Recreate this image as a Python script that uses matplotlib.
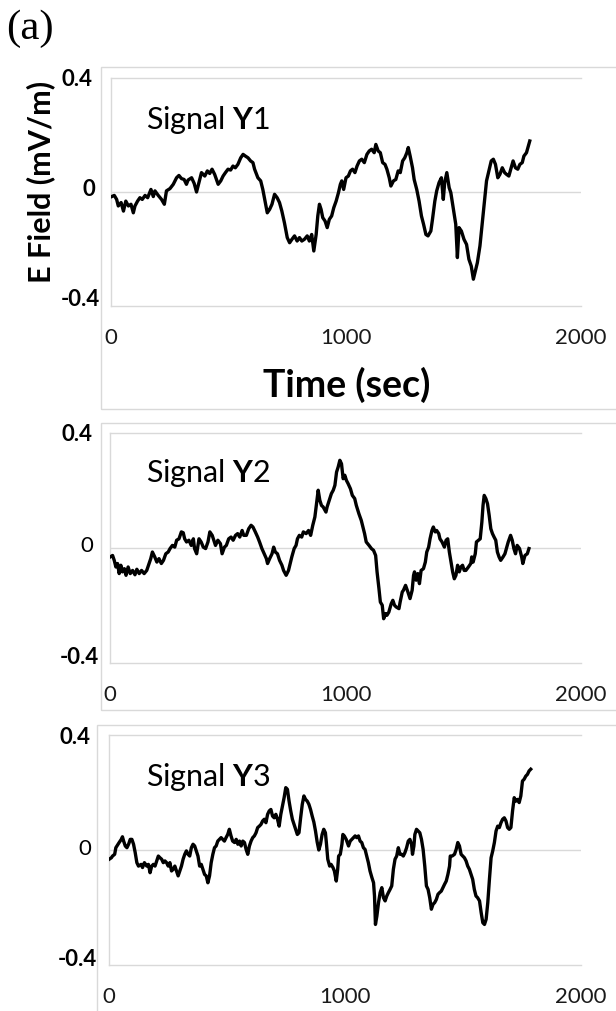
import matplotlib
matplotlib.use("Agg")
import matplotlib.pyplot as plt
import matplotlib.transforms as mtransforms
from matplotlib.patches import Rectangle

# digitised signals: (time in sec, E field in mV/m)
y1_points = [
    (3, -0.016), (14, -0.012), (24, -0.026), (31, -0.049), (43, -0.037), (53, -0.067), (63, -0.032),
    (74, -0.049), (85, -0.043), (95, -0.073), (102, -0.049), (113, -0.032), (123, -0.020), (133, -0.026),
    (145, -0.012), (156, -0.020), (170, 0.009), (180, -0.016), (187, 0.004), (201, -0.012), (215, -0.026),
    (227, -0.043), (236, 0.004), (251, 0.012), (265, 0.027), (279, 0.050), (289, 0.058), (300, 0.047),
    (311, 0.044), (321, 0.027), (328, 0.042), (343, 0.050), (354, 0.030), (364, 0.000), (374, 0.033),
    (385, 0.068), (399, 0.056), (410, 0.074), (420, 0.065), (430, 0.080), (441, 0.062), (456, 0.027),
    (467, 0.039), (477, 0.056), (487, 0.068), (498, 0.080), (509, 0.077), (519, 0.091), (529, 0.085),
    (540, 0.097), (552, 0.120), (562, 0.132), (572, 0.126), (583, 0.120), (594, 0.109), (604, 0.103),
    (611, 0.080), (625, 0.050), (637, 0.039), (646, 0.009), (654, -0.026), (665, -0.073), (675, -0.061),
    (685, -0.043), (696, -0.008), (707, -0.020), (717, -0.037), (727, -0.067), (738, -0.108), (750, -0.160),
    (760, -0.178), (770, -0.166), (781, -0.154), (792, -0.172), (802, -0.160), (812, -0.172), (823, -0.166),
    (835, -0.154), (844, -0.172), (854, -0.149), (863, -0.207), (873, -0.149), (880, -0.084), (887, -0.043),
    (894, -0.061), (901, -0.090), (911, -0.102), (920, -0.125), (929, -0.096), (939, -0.084), (948, -0.055),
    (958, -0.032), (968, -0.002), (976, 0.027), (982, 0.039), (990, 0.009), (1000, 0.050), (1010, 0.056),
    (1019, 0.074), (1028, 0.080), (1038, 0.068), (1047, 0.091), (1057, 0.109), (1067, 0.115), (1078, 0.103),
    (1089, 0.132), (1099, 0.144), (1109, 0.150), (1120, 0.138), (1127, 0.167), (1137, 0.144), (1146, 0.138),
    (1156, 0.103), (1166, 0.097), (1174, 0.080), (1184, 0.050), (1191, 0.021), (1202, 0.039), (1212, 0.044),
    (1222, 0.074), (1231, 0.068), (1241, 0.109), (1250, 0.120), (1259, 0.138), (1265, 0.156), (1273, 0.126),
    (1283, 0.085), (1290, 0.044), (1301, 0.009), (1311, -0.032), (1321, -0.084), (1330, -0.113), (1340, -0.149),
    (1349, -0.154), (1361, -0.137), (1368, -0.096), (1378, -0.032), (1386, 0.004), (1396, 0.033), (1406, 0.050),
    (1414, -0.026), (1420, 0.033), (1429, 0.068), (1439, 0.015), (1446, -0.002), (1457, -0.061), (1467, -0.113),
    (1474, -0.230), (1481, -0.125), (1491, -0.137), (1502, -0.166), (1513, -0.184), (1523, -0.236), (1533, -0.260),
    (1542, -0.306), (1547, -0.289), (1559, -0.248), (1570, -0.189), (1580, -0.108), (1590, -0.026), (1598, 0.039),
    (1608, 0.074), (1618, 0.109), (1627, 0.115), (1636, 0.097), (1646, 0.050), (1655, 0.062), (1665, 0.085),
    (1675, 0.068), (1683, 0.062), (1693, 0.056), (1703, 0.085), (1711, 0.109), (1721, 0.085), (1731, 0.080),
    (1740, 0.097), (1750, 0.103), (1757, 0.126), (1768, 0.138), (1774, 0.156), (1782, 0.179),
]

y2_points = [
    (1, -0.031), (11, -0.026), (18, -0.043), (25, -0.066), (32, -0.054), (39, -0.089), (46, -0.060),
    (53, -0.083), (61, -0.072), (68, -0.095), (77, -0.066), (86, -0.089), (96, -0.078), (106, -0.093),
    (114, -0.074), (124, -0.089), (134, -0.078), (145, -0.089), (156, -0.078), (166, -0.054), (173, -0.037),
    (180, -0.014), (190, -0.031), (199, -0.049), (208, -0.037), (218, -0.054), (227, -0.043), (237, -0.020),
    (247, -0.014), (255, -0.002), (265, 0.009), (275, 0.003), (283, 0.027), (293, 0.032), (303, 0.056),
    (311, 0.053), (317, 0.032), (325, 0.021), (335, 0.027), (345, 0.009), (354, 0.032), (359, -0.002),
    (368, -0.020), (378, 0.032), (387, 0.021), (396, 0.003), (406, -0.002), (416, 0.021), (424, 0.056),
    (434, 0.044), (441, 0.027), (448, 0.009), (458, 0.027), (469, 0.015), (476, -0.020), (486, 0.003),
    (494, 0.009), (504, 0.032), (514, 0.038), (523, 0.027), (533, 0.044), (542, 0.050), (551, 0.038),
    (561, 0.061), (568, 0.044), (579, 0.044), (589, 0.067), (599, 0.079), (607, 0.073), (617, 0.056),
    (627, 0.038), (635, 0.021), (645, -0.002), (655, -0.020), (664, -0.037), (669, -0.054), (678, -0.037),
    (688, -0.020), (695, 0.003), (702, -0.014), (711, -0.020), (720, -0.043), (730, -0.060), (737, -0.078),
    (748, -0.095), (758, -0.078), (765, -0.054), (772, -0.031), (782, -0.002), (790, 0.009), (796, 0.032),
    (804, 0.044), (814, 0.038), (821, 0.056), (833, 0.050), (843, 0.061), (852, 0.044), (861, 0.079),
    (870, 0.108), (877, 0.154), (884, 0.201), (891, 0.166), (898, 0.148), (905, 0.143), (917, 0.125),
    (922, 0.143), (931, 0.166), (940, 0.189), (948, 0.201), (955, 0.218), (962, 0.264), (969, 0.282),
    (976, 0.305), (983, 0.293), (990, 0.241), (997, 0.253), (1004, 0.235), (1011, 0.224), (1021, 0.206),
    (1029, 0.183), (1039, 0.172), (1046, 0.148), (1057, 0.119), (1067, 0.096), (1074, 0.073), (1081, 0.050),
    (1088, 0.021), (1100, 0.009), (1110, -0.002), (1119, -0.008), (1128, -0.026), (1134, -0.083), (1142, -0.141),
    (1148, -0.188), (1156, -0.199), (1162, -0.246), (1170, -0.228), (1176, -0.234), (1184, -0.223), (1194, -0.194),
    (1201, -0.182), (1208, -0.199), (1215, -0.205), (1227, -0.211), (1232, -0.188), (1241, -0.153), (1246, -0.147),
    (1255, -0.130), (1265, -0.153), (1274, -0.176), (1283, -0.147), (1289, -0.095), (1293, -0.083), (1300, -0.112),
    (1307, -0.089), (1314, -0.124), (1321, -0.078), (1331, -0.072), (1339, -0.049), (1345, -0.014), (1353, 0.003),
    (1359, 0.032), (1367, 0.061), (1373, 0.073), (1381, 0.056), (1387, 0.061), (1396, 0.050), (1401, 0.032),
    (1410, 0.021), (1420, 0.003), (1427, 0.027), (1434, 0.032), (1441, -0.014), (1448, -0.049), (1455, -0.083),
    (1462, -0.107), (1469, -0.095), (1476, -0.060), (1483, -0.083), (1490, -0.066), (1497, -0.060), (1504, -0.078),
    (1511, -0.078), (1522, -0.066), (1532, -0.054), (1536, -0.031), (1542, -0.049), (1551, -0.020), (1556, 0.021),
    (1565, 0.027), (1572, 0.032), (1579, 0.090), (1584, 0.148), (1589, 0.183), (1596, 0.172), (1603, 0.154),
    (1610, 0.114), (1617, 0.067), (1624, 0.050), (1631, 0.038), (1638, 0.027), (1645, -0.014), (1652, -0.031),
    (1659, -0.043), (1669, -0.031), (1677, -0.020), (1683, -0.002), (1691, 0.021), (1701, 0.044), (1708, 0.027),
    (1715, -0.002), (1722, -0.020), (1729, 0.009), (1739, -0.002), (1748, -0.031), (1753, -0.054), (1762, -0.026),
    (1772, -0.020), (1779, -0.002),
]

y3_points = [
    (1, -0.032), (10, -0.027), (15, -0.021), (24, -0.015), (29, 0.008), (38, 0.020), (43, 0.026),
    (52, 0.037), (57, 0.046), (62, 0.031), (69, 0.014), (76, 0.008), (83, 0.020), (90, 0.037), (97, 0.037),
    (104, 0.020), (111, -0.009), (118, -0.044), (125, -0.056), (136, -0.050), (142, -0.061), (150, -0.044),
    (160, -0.056), (167, -0.050), (174, -0.079), (181, -0.056), (188, -0.050), (195, -0.056), (202, -0.038),
    (209, -0.021), (216, -0.027), (223, -0.032), (230, -0.044), (237, -0.038), (244, -0.044), (251, -0.056),
    (258, -0.044), (265, -0.073), (272, -0.067), (279, -0.056), (286, -0.073), (293, -0.090), (300, -0.073),
    (307, -0.056), (314, -0.032), (321, -0.015), (328, -0.003), (335, -0.015), (342, -0.021), (349, 0.008),
    (356, 0.020), (363, 0.014), (370, -0.003), (377, -0.021), (384, -0.056), (391, -0.050), (398, -0.067),
    (405, -0.085), (412, -0.090), (419, -0.114), (426, -0.090), (433, -0.044), (440, -0.015), (447, 0.008),
    (454, 0.014), (461, 0.031), (468, 0.037), (475, 0.043), (482, 0.037), (489, 0.031), (496, 0.043),
    (503, 0.054), (510, 0.072), (517, 0.049), (524, 0.031), (532, 0.026), (539, 0.037), (546, 0.020),
    (553, 0.031), (560, 0.014), (567, 0.031), (574, 0.026), (581, 0.002), (588, -0.015), (595, 0.014),
    (602, 0.031), (609, 0.043), (616, 0.049), (623, 0.060), (630, 0.078), (637, 0.083), (644, 0.089),
    (651, 0.101), (658, 0.107), (665, 0.095), (672, 0.124), (679, 0.136), (686, 0.141), (693, 0.118),
    (700, 0.112), (707, 0.124), (714, 0.107), (721, 0.083), (728, 0.124), (735, 0.153), (742, 0.182),
    (749, 0.217), (756, 0.211), (763, 0.170), (770, 0.136), (777, 0.107), (784, 0.089), (791, 0.072),
    (798, 0.054), (805, 0.060), (812, 0.112), (819, 0.159), (826, 0.188), (833, 0.176), (840, 0.170),
    (847, 0.159), (854, 0.141), (861, 0.118), (868, 0.097), (875, 0.066), (882, 0.028), (889, 0.000),
    (896, 0.020), (903, 0.054), (910, 0.072), (917, 0.060), (921, 0.026), (927, -0.032), (935, -0.056),
    (941, -0.050), (949, -0.061), (955, -0.073), (963, -0.108), (969, -0.067), (973, -0.021), (980, -0.015),
    (987, 0.020), (991, 0.054), (997, 0.049), (1005, 0.037), (1015, 0.014), (1022, 0.031), (1029, 0.037),
    (1036, 0.043), (1043, 0.049), (1050, 0.043), (1057, 0.049), (1064, 0.031), (1071, 0.026), (1078, 0.008),
    (1085, 0.002), (1092, -0.021), (1099, -0.044), (1106, -0.073), (1114, -0.096), (1121, -0.114),
    (1125, -0.160), (1129, -0.259), (1135, -0.230), (1142, -0.183), (1149, -0.148), (1156, -0.131),
    (1163, -0.166), (1170, -0.177), (1177, -0.160), (1184, -0.148), (1191, -0.137), (1198, -0.125),
    (1205, -0.067), (1212, -0.032), (1219, -0.021), (1226, 0.008), (1233, -0.015), (1240, -0.015),
    (1247, -0.021), (1254, -0.009), (1261, 0.008), (1268, 0.031), (1275, 0.037), (1282, 0.020), (1286, -0.015),
    (1292, 0.014), (1296, 0.054), (1303, 0.072), (1310, 0.066), (1317, 0.060), (1324, 0.037), (1331, 0.002),
    (1338, -0.056), (1345, -0.125), (1352, -0.137), (1359, -0.166), (1366, -0.206), (1373, -0.189),
    (1380, -0.183), (1387, -0.172), (1394, -0.154), (1401, -0.148), (1408, -0.143), (1415, -0.131),
    (1422, -0.119), (1429, -0.108), (1436, -0.085), (1443, -0.056), (1446, -0.021), (1454, -0.021),
    (1464, -0.015), (1471, 0.002), (1478, 0.026), (1485, 0.014), (1492, -0.015), (1499, -0.021), (1506, -0.027),
    (1513, -0.038), (1520, -0.056), (1527, -0.067), (1534, -0.085), (1541, -0.102), (1548, -0.137),
    (1555, -0.160), (1562, -0.166), (1570, -0.177), (1577, -0.218), (1584, -0.253), (1591, -0.259),
    (1598, -0.241), (1605, -0.183), (1612, -0.102), (1619, -0.027), (1626, -0.003), (1633, 0.026),
    (1640, 0.066), (1647, 0.083), (1654, 0.078), (1661, 0.095), (1668, 0.107), (1675, 0.112), (1682, 0.101),
    (1689, 0.078), (1696, 0.072), (1703, 0.078), (1710, 0.136), (1717, 0.182), (1724, 0.170), (1731, 0.176),
    (1738, 0.165), (1745, 0.188), (1752, 0.240), (1759, 0.246), (1766, 0.257), (1773, 0.263), (1780, 0.275),
    (1787, 0.281),
]

signals = ["Y1", "Y2", "Y3"]
y_ticks = [-0.4, 0, 0.4]
y_tick_labels = ["-0.4", "0", "0.4"]
x_ticks = [0, 1000, 2000]
x_tick_labels = ["0", "1000", "2000"]

plt.rcParams["font.family"] = ["Lato", "DejaVu Sans"]
plt.rcParams["mathtext.fontset"] = "custom"
plt.rcParams["mathtext.rm"] = "Lato"
plt.rcParams["mathtext.bf"] = "Lato:bold"

W, H = 616, 1012
fig = plt.figure(figsize=(W / 100, H / 100), dpi=100)
grid_col = "#d9d9d9"


def px_rect(x0, y0, x1, y1):
    # figure-fraction rect from pixel box (y measured from top)
    return [x0 / W, 1 - y1 / H, (x1 - x0) / W, (y1 - y0) / H]


# plot areas, chart-area boxes, tick-label nudges (px) per panel
panels = [
    dict(data=y1_points, plot=(111, 79, 581, 307), box=(101, 68, 640, 410),
         nudge=[(-11, 10), (-16, 6), (-19, 2)], zero_bold=True, text_y=120),
    dict(data=y2_points, plot=(110, 434, 581, 664), box=(101, 424, 640, 711),
         nudge=[(-11, 8), (-17, 5), (-18, 1)], zero_bold=False, text_y=473),
    dict(data=y3_points, plot=(109, 736, 581, 966), box=(97, 726, 640, 1030),
         nudge=[(-12, 9), (-18, 4), (-19, 1)], zero_bold=False, text_y=777),
]

for name, p in zip(signals, panels):
    bx = p["box"]
    fig.add_artist(Rectangle((bx[0] / W, 1 - bx[3] / H), (bx[2] - bx[0]) / W, (bx[3] - bx[1]) / H,
                             transform=fig.transFigure, fill=False, ec=grid_col, lw=1))

    ax = fig.add_axes(px_rect(*p["plot"]))
    t, v = zip(*p["data"])
    ax.plot(t, v, color="black", lw=2.4, solid_joinstyle="round", zorder=3)
    ax.axhline(0, color=grid_col, lw=1, zorder=1)
    ax.set_xlim(0, 2000)
    ax.set_ylim(-0.4, 0.4)
    for side in ["top", "bottom", "left"]:
        ax.spines[side].set_color(grid_col)
        ax.spines[side].set_linewidth(1)
    ax.spines["right"].set_visible(False)

    ax.set_xticks(x_ticks)
    ax.set_xticklabels(x_tick_labels, fontsize=16, color="#1a1a1a")
    ax.tick_params(axis="x", length=0, pad=15)

    ax.set_yticks(y_ticks)
    ax.set_yticklabels(y_tick_labels, fontsize=16, fontweight="bold")
    ax.tick_params(axis="y", length=0, pad=0)
    for lab, (dx, dy) in zip(ax.get_yticklabels(), p["nudge"]):
        lab.set_transform(lab.get_transform() + mtransforms.ScaledTranslation(dx / 100, dy / 100, fig.dpi_scale_trans))
        if lab.get_text() == "0" and not p["zero_bold"]:
            lab.set_fontweight("normal")

    fig.text(146 / W, 1 - p["text_y"] / H, "Signal $\\mathbf{Y}$" + name[1], fontsize=22,
             va="center", ha="left")

fig.text(41 / W, 1 - 182 / H, "E Field (mV/m)", rotation=90, fontsize=22, fontweight="bold",
         ha="center", va="center")
fig.text(347 / W, 1 - 385 / H, "Time (sec)", fontsize=27, fontweight="bold", ha="center", va="center")
fig.text(30 / W, 1 - 29 / H, "(a)", fontsize=31, family="Liberation Serif", ha="center", va="center")

fig.savefig("out.png", dpi=100)
